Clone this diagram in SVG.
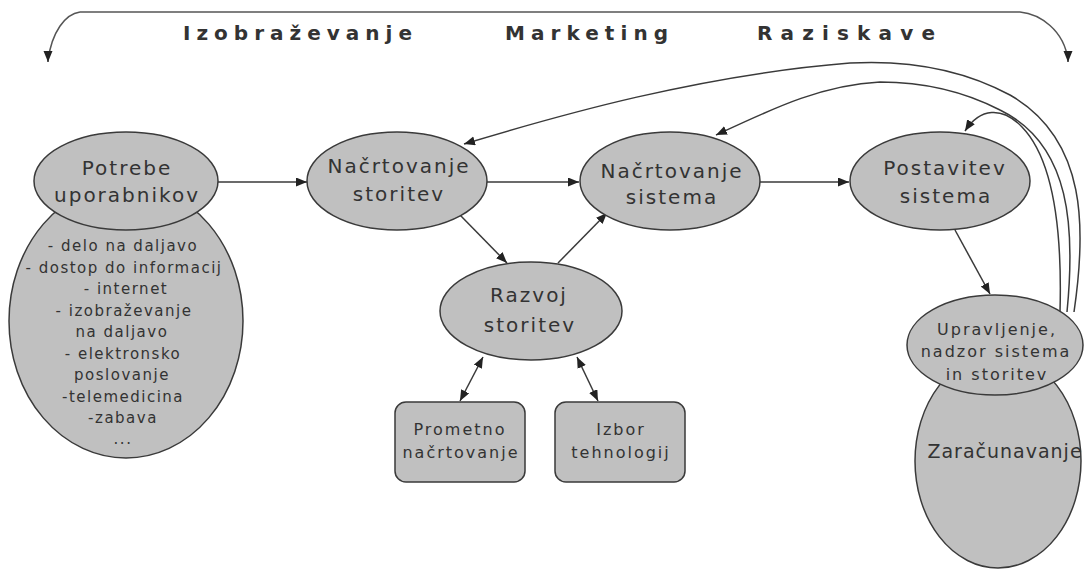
<svg xmlns="http://www.w3.org/2000/svg" width="1085" height="570" viewBox="0 0 1085 570">
<style>
.n{fill:#c0c0c0;stroke:#3a3a3a;stroke-width:1.5}
.t{font-family:"DejaVu Sans",Verdana,sans-serif;fill:#333;text-anchor:middle}
.b{font-size:20px;letter-spacing:2px}
.s{font-size:16px;letter-spacing:2px}
.l{font-size:15px;letter-spacing:1.5px}
.h{font-family:"DejaVu Sans",Verdana,sans-serif;font-weight:bold;font-size:20px;fill:#333}
.c{fill:none;stroke:#3a3a3a;stroke-width:1.5}
</style>
<defs>
<marker id="a" markerUnits="userSpaceOnUse" markerWidth="12" markerHeight="10" refX="11" refY="4.5" orient="auto-start-reverse">
<path d="M0,0 L11,4.5 L0,9 z" fill="#222"/>
</marker>
</defs>
<g id="connectors">
<path class="c" d="M80,12 C65,14 52,32 48,60 M80,12 L1020,12 M1020,12 C1040,14 1064,30 1068,60" stroke-width="2" style="stroke:#555"/>
<path class="c" d="M48,56 L48,62" marker-end="url(#a)"/>
<path class="c" d="M1068,56 L1068,62" marker-end="url(#a)"/>
<line class="c" x1="218" y1="182" x2="307" y2="182" marker-end="url(#a)"/>
<line class="c" x1="487" y1="182" x2="579" y2="182" marker-end="url(#a)"/>
<line class="c" x1="760" y1="182" x2="849" y2="182" marker-end="url(#a)"/>
<line class="c" x1="460" y1="215" x2="507" y2="263" marker-end="url(#a)"/>
<line class="c" x1="558" y1="263" x2="607" y2="213" marker-end="url(#a)"/>
<line class="c" x1="955" y1="230" x2="990" y2="294" marker-end="url(#a)"/>
<line class="c" x1="483" y1="357" x2="460" y2="401" marker-start="url(#a)" marker-end="url(#a)"/>
<line class="c" x1="577" y1="357" x2="598" y2="401" marker-start="url(#a)" marker-end="url(#a)"/>
<path class="c" d="M1074,312 C1086,230 1088,140 1010,95 C960,68 905,60 850,63 C700,75 560,115 464,144" marker-end="url(#a)"/>
<path class="c" d="M1067,312 C1075,230 1072,145 1000,110 C965,92 925,82 880,82 C820,85 770,110 716,135" marker-end="url(#a)"/>
<path class="c" d="M1060,312 C1062,240 1056,162 1022,127 C1002,106 980,108 965,131" marker-end="url(#a)"/>
</g>
<text class="h" x="183" y="40" textLength="229" lengthAdjust="spacing">Izobraževanje</text>
<text class="h" x="505" y="40" textLength="163" lengthAdjust="spacing">Marketing</text>
<text class="h" x="757" y="40" textLength="178" lengthAdjust="spacing">Raziskave</text>
<g id="potrebe">
<ellipse class="n" cx="126" cy="321" rx="117" ry="137"/>
<ellipse class="n" cx="126" cy="181" rx="92" ry="49"/>
<text class="t b" x="127" y="175">Potrebe</text>
<text class="t b" x="127" y="202">uporabnikov</text>
<text class="t l" x="123" y="251">- delo na daljavo</text>
<text class="t l" x="124" y="272.5">- dostop do informacij</text>
<text class="t l" x="126" y="294">- internet</text>
<text class="t l" x="124" y="315.5">- izobraževanje</text>
<text class="t l" x="122" y="337">na daljavo</text>
<text class="t l" x="123" y="358.5">- elektronsko</text>
<text class="t l" x="122" y="380">poslovanje</text>
<text class="t l" x="123" y="401.5">-telemedicina</text>
<text class="t l" x="123" y="423">-zabava</text>
<text class="t l" x="123" y="444">...</text>
</g>
<g id="nacrtovanje-storitev">
<ellipse class="n" cx="397" cy="181" rx="90" ry="49"/>
<text class="t b" x="399" y="173">Načrtovanje</text>
<text class="t b" x="399" y="201">storitev</text>
</g>
<g id="nacrtovanje-sistema">
<ellipse class="n" cx="670" cy="181" rx="90" ry="49"/>
<text class="t b" x="672" y="178">Načrtovanje</text>
<text class="t b" x="672" y="204">sistema</text>
</g>
<g id="postavitev">
<ellipse class="n" cx="940" cy="181" rx="90" ry="49"/>
<text class="t b" x="945" y="175">Postavitev</text>
<text class="t b" x="946" y="203">sistema</text>
</g>
<g id="razvoj">
<ellipse class="n" cx="531" cy="311" rx="91" ry="49"/>
<text class="t b" x="529" y="302">Razvoj</text>
<text class="t b" x="530" y="332">storitev</text>
</g>
<g id="prometno">
<rect class="n" x="395" y="402" width="130" height="80" rx="11"/>
<text class="t s" x="460" y="435">Prometno</text>
<text class="t s" x="461" y="458">načrtovanje</text>
</g>
<g id="izbor">
<rect class="n" x="555" y="402" width="130" height="80" rx="11"/>
<text class="t s" x="621" y="435">Izbor</text>
<text class="t s" x="621" y="458">tehnologij</text>
</g>
<g id="zaracunavanje">
<ellipse class="n" cx="998" cy="461" rx="83" ry="107"/>
<text class="t" x="1005" y="458" style="font-size:19px;letter-spacing:1px">Zaračunavanje</text>
</g>
<g id="upravljenje">
<ellipse class="n" cx="995" cy="345" rx="88" ry="50"/>
<text class="t s" x="997" y="335">Upravljenje,</text>
<text class="t s" x="996" y="357">nadzor sistema</text>
<text class="t s" x="997" y="380">in storitev</text>
</g>
</svg>
